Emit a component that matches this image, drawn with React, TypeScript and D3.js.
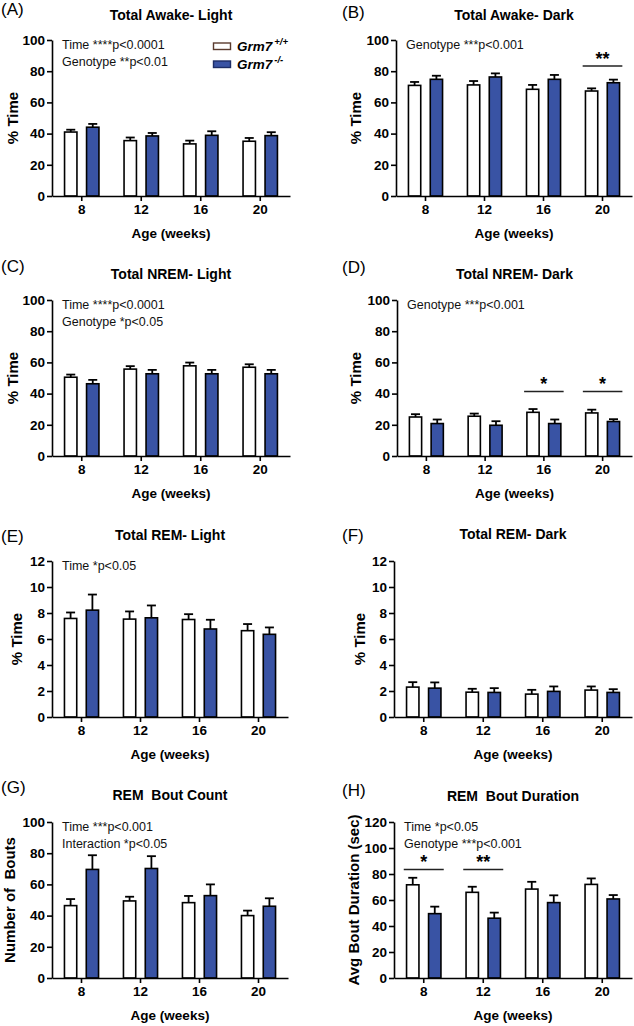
import React, { useEffect, useRef } from "react";
import * as d3 from "d3";

// ages on the x axis, two genotypes per age
const ages = ["8", "12", "16", "20"];
const genotypes = ["wt", "ko"];

// (A) Total Awake - Light
const awakeLightWT = [41.0, 35.5, 33.4, 35.1];
const awakeLightWTSem = [1.5, 2.0, 2.1, 2.1];
const awakeLightKO = [44.1, 38.5, 38.9, 38.7];
const awakeLightKOSem = [2.1, 1.9, 2.6, 2.2];

// (B) Total Awake - Dark
const awakeDarkWT = [70.9, 71.2, 68.4, 67.3];
const awakeDarkWTSem = [2.2, 2.5, 2.8, 1.7];
const awakeDarkKO = [74.8, 76.3, 74.8, 72.6];
const awakeDarkKOSem = [2.3, 2.3, 2.8, 2.0];

// (C) Total NREM - Light
const nremLightWT = [50.5, 55.7, 57.8, 56.9];
const nremLightWTSem = [1.7, 1.9, 2.1, 1.9];
const nremLightKO = [46.3, 52.7, 52.7, 52.7];
const nremLightKOSem = [2.5, 2.5, 2.5, 2.5];

// (D) Total NREM - Dark
const nremDarkWT = [25.0, 25.5, 28.0, 27.6];
const nremDarkWTSem = [1.8, 1.7, 2.1, 2.1];
const nremDarkKO = [20.8, 19.7, 20.8, 22.1];
const nremDarkKOSem = [2.6, 2.6, 2.6, 1.5];

// (E) Total REM - Light
const remLightWT = [7.58, 7.53, 7.5, 6.64];
const remLightWTSem = [0.46, 0.59, 0.41, 0.51];
const remLightKO = [8.22, 7.63, 6.77, 6.36];
const remLightKOSem = [1.2, 0.95, 0.71, 0.53];

// (F) Total REM - Dark
const remDarkWT = [2.3, 1.91, 1.76, 2.07];
const remDarkWTSem = [0.38, 0.26, 0.33, 0.28];
const remDarkKO = [2.22, 1.89, 1.97, 1.89];
const remDarkKOSem = [0.44, 0.33, 0.38, 0.25];

// (G) REM bout count
const boutCountWT = [46.4, 49.4, 48.3, 40.0];
const boutCountWTSem = [4.2, 2.7, 4.3, 3.2];
const boutCountKO = [69.6, 70.2, 52.8, 46.0];
const boutCountKOSem = [9.1, 7.9, 7.2, 5.1];

// (H) REM bout duration
const boutDurWT = [71.7, 65.9, 68.4, 72.0];
const boutDurWTSem = [5.4, 4.3, 5.6, 4.6];
const boutDurKO = [49.5, 46.0, 58.0, 60.8];
const boutDurKOSem = [5.4, 4.3, 5.6, 3.0];

interface Sig {
  age: string;
  value: number;
  label: string;
}

interface Panel {
  letter: string;
  title: string;
  yTitle: string;
  yMax: number;
  yStep: number;
  wt: number[];
  wtSem: number[];
  ko: number[];
  koSem: number[];
  notes: string[];
  sig: Sig[];
  // layout
  x0: number;
  x1: number;
  top: number;
  bottom: number;
  yTitleX: number;
  letterX: number;
  letterY: number;
  titleY: number;
}

const FONT = "'Liberation Sans', Arial, Helvetica, sans-serif";
const BLUE = "#3953a4";

const rowTop = [40, 300, 561, 822];
const rowH = 156;

const panels: Panel[] = [
  {
    letter: "(A)", title: "Total Awake- Light", yTitle: "% Time", yMax: 100, yStep: 20,
    wt: awakeLightWT, wtSem: awakeLightWTSem, ko: awakeLightKO, koSem: awakeLightKOSem,
    notes: ["Time ****p<0.0001", "Genotype **p<0.01"], sig: [],
    x0: 52, x1: 290, top: rowTop[0], bottom: rowTop[0] + rowH, yTitleX: 13, letterX: 1, letterY: 9, titleY: 15,
  },
  {
    letter: "(B)", title: "Total Awake- Dark", yTitle: "% Time", yMax: 100, yStep: 20,
    wt: awakeDarkWT, wtSem: awakeDarkWTSem, ko: awakeDarkKO, koSem: awakeDarkKOSem,
    notes: ["Genotype ***p<0.001"], sig: [{ age: "20", value: 83.3, label: "**" }],
    x0: 396, x1: 632, top: rowTop[0], bottom: rowTop[0] + rowH, yTitleX: 356, letterX: 342, letterY: 12, titleY: 15,
  },
  {
    letter: "(C)", title: "Total NREM- Light", yTitle: "% Time", yMax: 100, yStep: 20,
    wt: nremLightWT, wtSem: nremLightWTSem, ko: nremLightKO, koSem: nremLightKOSem,
    notes: ["Time ****p<0.0001", "Genotype *p<0.05"], sig: [],
    x0: 52, x1: 290, top: rowTop[1], bottom: rowTop[1] + rowH, yTitleX: 13, letterX: 1, letterY: 266, titleY: 274,
  },
  {
    letter: "(D)", title: "Total NREM- Dark", yTitle: "% Time", yMax: 100, yStep: 20,
    wt: nremDarkWT, wtSem: nremDarkWTSem, ko: nremDarkKO, koSem: nremDarkKOSem,
    notes: ["Genotype ***p<0.001"],
    sig: [{ age: "16", value: 41.4, label: "*" }, { age: "20", value: 41.4, label: "*" }],
    x0: 397, x1: 632, top: rowTop[1], bottom: rowTop[1] + rowH, yTitleX: 356, letterX: 342, letterY: 267, titleY: 274,
  },
  {
    letter: "(E)", title: "Total REM- Light", yTitle: "% Time", yMax: 12, yStep: 2,
    wt: remLightWT, wtSem: remLightWTSem, ko: remLightKO, koSem: remLightKOSem,
    notes: ["Time *p<0.05"], sig: [],
    x0: 52, x1: 288, top: rowTop[2], bottom: rowTop[2] + rowH, yTitleX: 17, letterX: 1, letterY: 536, titleY: 535,
  },
  {
    letter: "(F)", title: "Total REM- Dark", yTitle: "% Time", yMax: 12, yStep: 2,
    wt: remDarkWT, wtSem: remDarkWTSem, ko: remDarkKO, koSem: remDarkKOSem,
    notes: [], sig: [],
    x0: 394, x1: 632, top: rowTop[2], bottom: rowTop[2] + rowH, yTitleX: 360, letterX: 342, letterY: 535, titleY: 534,
  },
  {
    letter: "(G)", title: "REM  Bout Count", yTitle: "Number of  Bouts", yMax: 100, yStep: 20,
    wt: boutCountWT, wtSem: boutCountWTSem, ko: boutCountKO, koSem: boutCountKOSem,
    notes: ["Time ***p<0.001", "Interaction *p<0.05"], sig: [],
    x0: 52, x1: 288, top: rowTop[3], bottom: rowTop[3] + rowH, yTitleX: 10, letterX: 1, letterY: 787, titleY: 795,
  },
  {
    letter: "(H)", title: "REM  Bout Duration", yTitle: "Avg Bout Duration (sec)", yMax: 120, yStep: 20,
    wt: boutDurWT, wtSem: boutDurWTSem, ko: boutDurKO, koSem: boutDurKOSem,
    notes: ["Time *p<0.05", "Genotype ***p<0.001"],
    sig: [{ age: "8", value: 83.5, label: "*" }, { age: "12", value: 83.5, label: "**" }],
    x0: 394, x1: 632, top: rowTop[3], bottom: rowTop[3] + rowH, yTitleX: 354, letterX: 342, letterY: 790, titleY: 796,
  },
];

const App: React.FC = () => {
  const svgRef = useRef<SVGSVGElement | null>(null);

  useEffect(() => {
    if (!svgRef.current) return;
    document.body.style.margin = "0";

    const svg = d3.select(svgRef.current);
    svg.selectAll("*").remove();

    panels.forEach((p) => {
      const g = svg.append("g").attr("font-family", FONT);

      const x = d3.scaleBand<string>().domain(ages).range([p.x0, p.x1]).paddingInner(0).paddingOuter(0);
      const sub = d3.scaleBand<string>().domain(genotypes).range([0, x.bandwidth()])
        .paddingInner(0.364).paddingOuter(0.534);
      const y = d3.scaleLinear().domain([0, p.yMax]).range([p.bottom, p.top]);

      const rows = ages.flatMap((age, i) => [
        { age, gt: "wt", v: p.wt[i], e: p.wtSem[i] },
        { age, gt: "ko", v: p.ko[i], e: p.koSem[i] },
      ]);

      const sw = 1.6;
      // error bars (upper SEM only)
      const cx = (d: { age: string; gt: string }) => (x(d.age) ?? 0) + (sub(d.gt) ?? 0) + sub.bandwidth() / 2;
      g.append("g").selectAll("line").data(rows).enter().append("line")
        .attr("x1", cx).attr("x2", cx)
        .attr("y1", (d) => y(d.v)).attr("y2", (d) => y(d.v + d.e))
        .attr("stroke", "#000").attr("stroke-width", 1.8);
      g.append("g").selectAll("line").data(rows).enter().append("line")
        .attr("x1", (d) => cx(d) - 4.5).attr("x2", (d) => cx(d) + 4.5)
        .attr("y1", (d) => y(d.v + d.e)).attr("y2", (d) => y(d.v + d.e))
        .attr("stroke", "#000").attr("stroke-width", 1.8);

      // bars
      g.append("g").selectAll("rect").data(rows).enter().append("rect")
        .attr("x", (d) => (x(d.age) ?? 0) + (sub(d.gt) ?? 0) + sw / 2)
        .attr("width", sub.bandwidth() - sw)
        .attr("y", (d) => y(d.v))
        .attr("height", (d) => p.bottom - y(d.v))
        .attr("fill", (d) => (d.gt === "wt" ? "#fff" : BLUE))
        .attr("stroke", "#000")
        .attr("stroke-width", sw);

      // axes
      const yAxis = g.append("g")
        .attr("transform", `translate(${p.x0},0)`)
        .call(d3.axisLeft(y).tickValues(d3.range(0, p.yMax + p.yStep / 2, p.yStep)).tickSize(5).tickSizeOuter(0).tickPadding(2));
      const xAxis = g.append("g")
        .attr("transform", `translate(0,${p.bottom})`)
        .call(d3.axisBottom(x).tickSize(5).tickSizeOuter(0).tickPadding(3));
      [yAxis, xAxis].forEach((a) => {
        a.selectAll("path, line").attr("stroke", "#000").attr("stroke-width", 1.6);
        a.selectAll("text").attr("font-family", FONT).attr("font-size", 13.5)
          .attr("font-weight", "bold").attr("fill", "#000");
      });

      // significance bars
      p.sig.forEach((s) => {
        const gx = x(s.age) ?? 0;
        const l = gx + (sub("wt") ?? 0) - 2;
        const r = gx + (sub("ko") ?? 0) + sub.bandwidth() + 2;
        g.append("line").attr("x1", l).attr("x2", r)
          .attr("y1", y(s.value)).attr("y2", y(s.value))
          .attr("stroke", "#222").attr("stroke-width", 1.5);
        g.append("text").attr("x", (l + r) / 2).attr("y", y(s.value) - 1)
          .attr("text-anchor", "middle").attr("font-size", 18).attr("font-weight", "bold")
          .text(s.label);
      });

      // stats notes
      p.notes.forEach((n, i) => {
        g.append("text").attr("x", p.x0 + 10).attr("y", p.top + 8.5 + i * 17)
          .attr("font-size", 12.5).attr("fill", "#111").text(n);
      });

      // titles
      const mid = (p.x0 + p.x1) / 2;
      g.append("text").attr("x", mid).attr("y", p.titleY + 5)
        .attr("text-anchor", "middle").attr("font-size", 14).attr("font-weight", "bold")
        .style("white-space", "pre").text(p.title);
      g.append("text").attr("x", p.letterX).attr("y", p.letterY + 6)
        .attr("font-size", 17).text(p.letter);
      g.append("text").attr("x", mid).attr("y", p.bottom + 42)
        .attr("text-anchor", "middle").attr("font-size", 13.5).attr("font-weight", "bold").text("Age (weeks)");
      g.append("text")
        .attr("transform", `translate(${p.yTitleX + 5},${(p.top + p.bottom) / 2}) rotate(-90)`)
        .attr("text-anchor", "middle").attr("font-size", 15).attr("font-weight", "bold")
        .style("white-space", "pre").text(p.yTitle);
    });

    // legend in panel A
    const leg = svg.append("g").attr("font-family", FONT);
    const legendItems = [
      { fill: "#fff", stroke: "#5a3b2e", sup: "+/+" },
      { fill: BLUE, stroke: "#1d2d66", sup: "-/-" },
    ];
    legendItems.forEach((it, i) => {
      const cy = 46 + i * 18;
      leg.append("rect").attr("x", 213.5).attr("y", cy - 3).attr("width", 17).attr("height", 6.5)
        .attr("fill", it.fill).attr("stroke", it.stroke).attr("stroke-width", 1.4);
      const t = leg.append("text").attr("x", 237).attr("y", cy + 5)
        .attr("font-size", 13.5).attr("font-weight", "bold").attr("font-style", "italic");
      t.append("tspan").text("Grm7");
      t.append("tspan").attr("dx", 2).attr("dy", -6).attr("font-size", 9.5).text(it.sup);
    });
  }, []);

  return <svg ref={svgRef} width={634} height={1026} style={{ display: "block", background: "#fff" }}></svg>;
};

export default App;
